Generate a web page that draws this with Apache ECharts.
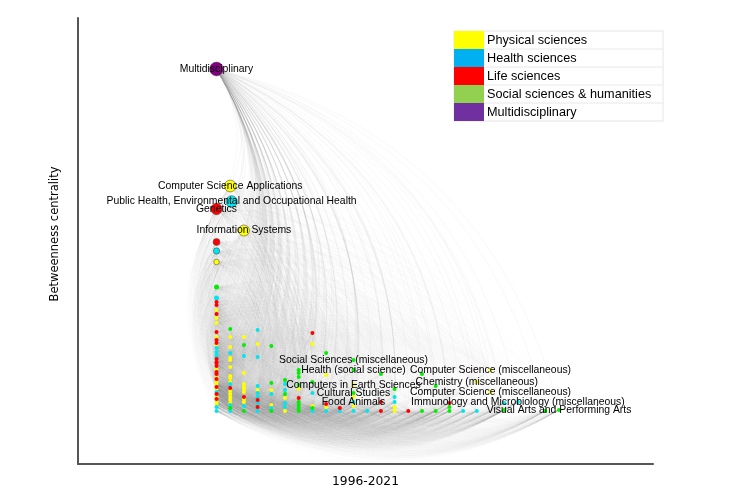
<!DOCTYPE html>
<html><head><meta charset="utf-8">
<script src="https://cdn.jsdelivr.net/npm/echarts@6/dist/echarts.min.js"></script>
<style>html,body{margin:0;padding:0;background:#fff}#c{width:733px;height:500px}</style>
</head><body><div id="c"></div>
<script>
// ---------------- data ----------------
const categories = ['Physical sciences', 'Health sciences', 'Life sciences', 'Social sciences & humanities', 'Multidisciplinary'];
const xAxisTitle = '1996-2021';
const yAxisTitle = 'Betweenness centrality';

// unlabelled nodes: [column, betweenness centrality]
const physical = [
  [0,149],[0,101],[0,93],[0,88],[0,74],[0,66],[0,42],[0,34],[0,29],[0,27],[0,22],[0,14],[0,9],[0,7],
  [1,74],[1,64],[1,53],[1,51],[1,44],[1,35],[1,33],[1,29],[1,20],[1,17],[1,14],[1,11],[1,8],
  [2,74],[2,38],[2,27],[2,24],[2,22],[2,19],[2,12],[2,9],
  [3,67],[3,21],[4,21],[4,6],[5,13],[5,0],[6,22],[7,67],[7,5],[8,36],[8,4],[10,14],[10,5],[13,4],[13,0]
];
const health = [
  [0,160],[0,113],[0,63],[0,59],[0,56],[0,54],[0,19],[0,4],[0,0],
  [1,58],[1,27],[1,6],[1,0],[2,55],[2,5],
  [3,81],[3,54],[3,25],[3,18],[3,14],[3,8],[3,0],
  [4,17],[4,3],[5,27],[5,21],[5,8],[5,4],[7,18],[7,0],[8,0],[9,0],[10,0],[11,0],
  [13,14],[13,9],[18,0],[19,0],[21,8]
];
const life = [
  [0,169],[0,109],[0,106],[0,97],[0,79],[0,71],[0,68],[0,52],[0,49],[0,48],[0,45],[0,39],[0,37],[0,32],[0,24],[0,17],[0,12],
  [1,23],[2,14],[3,11],[3,4],[6,13],[7,78],[8,7],[9,3],[12,9],[12,0],[14,0],[17,8]
];
const social = [
  [0,124],[1,82],[1,3],[2,66],[2,0],[4,65],[4,28],[4,0],[5,31],[5,17],
  [6,41],[6,38],[6,34],[6,26],[6,9],[6,6],[6,3],[6,0],[7,29],[7,3],[8,58],
  [12,37],[13,22],[15,37],[15,0],[16,25],[16,0],[17,4],[17,0],[21,1],[24,0]
];
const multidisciplinary = [];

// labelled nodes: [name, category index, column, betweenness centrality]
const labelled = [
  ['Multidisciplinary', 4, 0, 342],
  ['Computer Science Applications', 0, 1, 225],
  ['Public Health, Environmental and Occupational Health', 1, 1.1, 209.5],
  ['Genetics', 2, 0, 202],
  ['Information Systems', 0, 2, 180.5],
  ['Social Sciences (miscellaneous)', 3, 10, 51],
  ['Health (social science)', 3, 10, 41],
  ['Computer Science (miscellaneous)', 0, 20, 41],
  ['Chemistry (miscellaneous)', 0, 19, 29],
  ['Computers in Earth Sciences', 0, 10, 26],
  ['Computer Science (miscellaneous)', 0, 20, 19],
  ['Cultural Studies', 3, 10, 18],
  ['Immunology and Microbiology (miscellaneous)', 1, 22, 9],
  ['Food Animals', 1, 10, 9],
  ['Visual Arts and Performing Arts', 3, 25, 1]
];

// ---------------- styles ----------------
const nodeColors = ['#ffff00', '#00e5ee', '#ff0000', '#00ee00', '#800080'];
const legendColors = ['#ffff00', '#00b0f0', '#ff0000', '#92d050', '#7030a0'];

// ---------------- build ----------------
const perCat = [physical, health, life, social, multidisciplinary];
const nodes = [];
perCat.forEach((arr, c) => arr.forEach(p => nodes.push({x: p[0], y: p[1], cat: c, name: ''})));
labelled.forEach(l => nodes.push({x: l[2], y: l[3], cat: l[1], name: l[0]}));

function sizeOf(v) {
  if (v >= 175) return 11 + (v - 175) / 60;
  if (v >= 140) return 5 + (v - 140) / 15;
  if (v >= 110) return 5;
  return 4;
}

// network edges (structure only)
let topIdx = 0;
nodes.forEach((n, i) => { if (n.y > nodes[topIdx].y) topIdx = i; });
const isHub = nodes.map(n => n.y >= 120);
const links = [];
function link(s, t, op) { links.push({source: s, target: t, lineStyle: {opacity: op}}); }
// the top node links everything
nodes.forEach((n, i) => { if (i !== topIdx) link(topIdx, i, 0.14); });
// other hubs link to all ordinary nodes
nodes.forEach((h, hi) => {
  if (!isHub[hi] || hi === topIdx) return;
  nodes.forEach((n, i) => { if (!isHub[i]) link(i, hi, 0.025); });
  nodes.forEach((n, i) => { if (!isHub[i] && n.x >= 3) link(hi, i, 0.03); });
});
// ordinary nodes outside the first column link to the first column
nodes.forEach((n, i) => {
  if (n.x < 1 || isHub[i]) return;
  nodes.forEach((m, j) => {
    if (m.x !== 0 || isHub[j]) return;
    if (n.y <= 12 || m.y <= 30) link(i, j, 0.03);
    if (n.x >= 4 && m.y >= 40) link(j, i, 0.022);
  });
});
// nodes along the bottom row link leftwards
nodes.forEach((n, i) => {
  if (n.y > 10) return;
  nodes.forEach((m, j) => { if (m.y <= 10 && m.x < n.x && m.x >= 1) link(i, j, 0.04); });
});

const scatterSeries = categories.map((name, c) => ({
  name: name,
  type: 'scatter',
  z: 3,
  silent: true,
  itemStyle: {opacity: 1},
  data: nodes.filter(n => n.cat === c).map(n => {
    const s = sizeOf(n.y);
    return {
      value: [n.x, n.y],
      name: n.name,
      symbolSize: s,
      itemStyle: {color: nodeColors[c], opacity: 1, borderColor: s > 5 ? '#555' : nodeColors[c], borderWidth: s > 5 ? 0.6 : 0},
      label: {show: n.name !== '', formatter: n.name}
    };
  }),
  label: {position: 'inside', color: '#000', fontSize: 10.4, fontFamily: 'Liberation Sans'}
}));

const chart = echarts.init(document.getElementById('c'), null, {renderer: 'canvas'});
chart.setOption({
  animation: false,
  backgroundColor: '#fff',
  grid: {left: 78, right: 80, top: 18, bottom: 36},
  xAxis: {
    type: 'value', min: -10.11, max: 31.86,
    axisLine: {show: true, onZero: false, lineStyle: {color: '#555', width: 2}},
    axisTick: {show: false}, axisLabel: {show: false}, splitLine: {show: false},
    name: xAxisTitle, nameLocation: 'middle', nameGap: 12,
    nameTextStyle: {fontFamily: 'DejaVu Sans', fontSize: 12.3, color: '#000'}
  },
  yAxis: {
    type: 'value', min: -53, max: 393,
    axisLine: {show: true, onZero: false, lineStyle: {color: '#555', width: 2}},
    axisTick: {show: false}, axisLabel: {show: false}, splitLine: {show: false},
    name: yAxisTitle, nameLocation: 'middle', nameGap: 17,
    nameTextStyle: {fontFamily: 'DejaVu Sans', fontSize: 11.5, color: '#000', padding: [0, 0, 0, 14]}
  },
  legend: {
    orient: 'vertical', left: 454, top: 31, itemGap: 0, itemWidth: 30, itemHeight: 18,
    padding: 0, icon: 'rect', selectedMode: false,
    data: categories.map((c, i) => ({name: c, itemStyle: {color: legendColors[i], opacity: 1, borderWidth: 0}})),
    textStyle: {fontSize: 12.7, fontFamily: 'Liberation Sans', color: '#000', padding: [0, 0, 0, -2]}
  },
  graphic: [
    {type: 'rect', shape: {x: 454, y: 31, width: 209, height: 90}, style: {fill: 'none', stroke: '#e4e4e4', lineWidth: 1}, z: -1},
    {type: 'line', shape: {x1: 484, y1: 49, x2: 663, y2: 49}, style: {stroke: '#e8e8e8', lineWidth: 1}, z: -1},
    {type: 'line', shape: {x1: 484, y1: 67, x2: 663, y2: 67}, style: {stroke: '#e8e8e8', lineWidth: 1}, z: -1},
    {type: 'line', shape: {x1: 484, y1: 85, x2: 663, y2: 85}, style: {stroke: '#e8e8e8', lineWidth: 1}, z: -1},
    {type: 'line', shape: {x1: 484, y1: 103, x2: 663, y2: 103}, style: {stroke: '#e8e8e8', lineWidth: 1}, z: -1}
  ],
  series: [{
    type: 'graph',
    coordinateSystem: 'cartesian2d',
    silent: true,
    z: 1,
    symbol: 'none',
    symbolSize: 0,
    data: nodes.map(n => [n.x, n.y]),
    links: links,
    lineStyle: {color: '#999', width: 0.5, opacity: 0.05, curveness: 0.3}
  }].concat(scatterSeries)
});
</script></body></html>
